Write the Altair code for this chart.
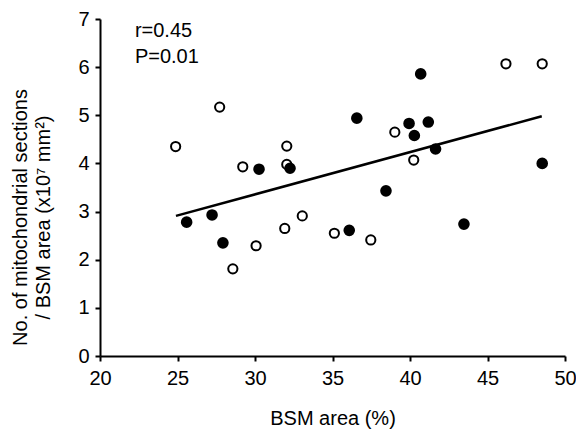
import altair as alt
import pandas as pd

# Open circles
open_x = [24.88, 27.72, 28.57, 29.21, 30.07, 31.92, 32.05, 32.05, 33.05, 35.12, 37.47, 39.02, 40.24, 46.19, 48.53]
open_y = [4.35, 5.17, 1.81, 3.93, 2.29, 2.65, 4.36, 3.98, 2.91, 2.55, 2.41, 4.65, 4.07, 6.07, 6.07]
# Filled circles
filled_x = [25.59, 27.23, 27.93, 30.26, 32.26, 36.08, 36.57, 38.45, 39.94, 40.28, 40.69, 41.18, 41.65, 43.48, 48.53]
filled_y = [2.78, 2.93, 2.35, 3.88, 3.90, 2.61, 4.94, 3.43, 4.83, 4.58, 5.86, 4.86, 4.30, 2.74, 4.00]
# Regression line end points
fit_x = [24.9, 48.5]
fit_y = [2.91, 4.98]
# Annotation
note_text = ["r=0.45", "P=0.01"]
note_x = [22.25, 22.25]
note_y = [6.62, 6.08]
# Ticks
x_ticks = [20, 22.5, 25, 27.5, 30, 32.5, 35, 37.5, 40, 42.5, 45, 47.5, 50]
y_ticks = [0, 0.5, 1, 1.5, 2, 2.5, 3, 3.5, 4, 4.5, 5, 5.5, 6, 6.5, 7]

FONT = "Liberation Sans"

open_df = pd.DataFrame({"x": open_x, "y": open_y})
filled_df = pd.DataFrame({"x": filled_x, "y": filled_y})
fit_df = pd.DataFrame({"x": fit_x, "y": fit_y})
note_df = pd.DataFrame({"x": note_x, "y": note_y, "t": note_text})

xscale = alt.Scale(domain=[20, 50], nice=False, zero=False)
yscale = alt.Scale(domain=[0, 7], nice=False)

xaxis = alt.Axis(
    values=x_ticks,
    labelExpr="datum.value % 5 == 0 ? datum.label : ''",
    labelOverlap=False,
    labelFlush=False,
    grid=False,
    tickSize=5,
    tickWidth=2,
    domainWidth=2,
    labelPadding=7,
    titlePadding=20,
    title="BSM area (%)",
)
yaxis = alt.Axis(
    values=y_ticks,
    labelExpr="datum.value % 1 == 0 ? datum.label : ''",
    labelOverlap=False,
    labelFlush=False,
    grid=False,
    tickSize=5,
    tickWidth=2,
    domainWidth=2,
    labelPadding=6,
    titlePadding=24,
    title=["No. of mitochondrial sections", "/ BSM area (x10⁷ mm²)"],
    titleLineHeight=23,
    titleY=198,
)

base_open = alt.Chart(open_df).mark_point(
    shape="circle", filled=False, stroke="#000", strokeWidth=2, size=85, opacity=1
).encode(
    x=alt.X("x:Q", scale=xscale, axis=xaxis),
    y=alt.Y("y:Q", scale=yscale, axis=yaxis),
)

filled = alt.Chart(filled_df).mark_circle(color="#000", size=135, opacity=1).encode(
    x=alt.X("x:Q", scale=xscale),
    y=alt.Y("y:Q", scale=yscale),
)

fit = alt.Chart(fit_df).mark_line(color="#000", strokeWidth=2.5).encode(
    x=alt.X("x:Q", scale=xscale),
    y=alt.Y("y:Q", scale=yscale),
)

note = alt.Chart(note_df).mark_text(
    align="left", baseline="alphabetic", font=FONT, fontSize=20, color="#000"
).encode(
    x=alt.X("x:Q", scale=xscale),
    y=alt.Y("y:Q", scale=yscale),
    text="t:N",
)

chart = alt.layer(fit, base_open, filled, note).properties(
    width=465,
    height=337,
    padding={"left": 92, "top": 11, "right": 11, "bottom": 75},
    autosize=alt.AutoSizeParams(type="none"),
).configure_view(stroke=None).configure_axis(
    domainColor="#000",
    tickColor="#000",
    labelColor="#000",
    titleColor="#000",
    labelFont=FONT,
    titleFont=FONT,
    labelFontSize=20,
    titleFontSize=20,
    titleFontWeight="normal",
)

chart.save("out.html", embed_options={"renderer": "svg", "actions": False})
